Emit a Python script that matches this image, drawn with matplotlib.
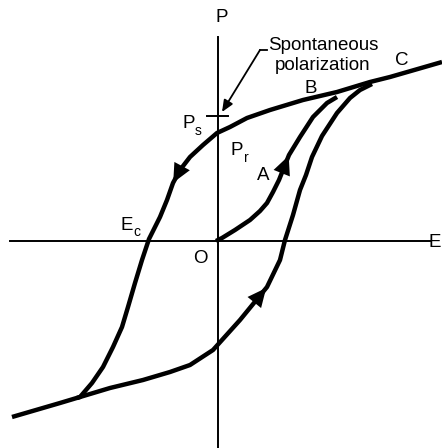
import matplotlib.pyplot as plt

plt.rcParams['font.family'] = ['Liberation Sans', 'DejaVu Sans']

# Curves (E across, P up, origin at O)
upper_E = [226, 174, 154, 121, 87, 54, 31, 14, 1, -13, -26, -36, -43, -49,
           -56, -67, -74, -81, -88, -94, -103, -113, -124, -136, -139]
upper_P = [179, 164, 159, 149, 141, 131, 123, 114, 108, 96, 84, 71, 58, 41,
           24, 2, -19, -42, -66, -86, -106, -126, -142, -156, -157]

lower_E = [-204, -156, -136, -106, -73, -46, -26, -3, 24, 51, 64, 69, 77, 84,
           90, 96, 106, 121, 134, 144, 156]
lower_P = [-176, -162, -156, -147, -139, -131, -124, -109, -79, -46, -19, 1,
           26, 51, 66, 84, 105, 128, 143, 151, 157]

virgin_E = [0, 6, 19, 34, 44, 51, 57, 63, 73, 84, 97, 111, 121]
virgin_P = [0, 3, 11, 21, 30, 38, 49, 61, 86, 104, 124, 138, 144]

Ps = 125

fig = plt.figure(figsize=(4.42, 4.48), dpi=100)
ax = fig.add_axes([0, 0, 1, 1])
ax.set_xlim(-216, 226)
ax.set_ylim(-207, 241)
ax.axis('off')

# axes
ax.plot([-206, 214], [0, 0], color='black', lw=1.4)
ax.plot([2, 2], [-210, 204], color='black', lw=1.4)

curve_kw = dict(color='black', lw=3.2, solid_joinstyle='round',
                solid_capstyle='butt')
ax.plot(upper_E, upper_P, **curve_kw)
ax.plot(lower_E, lower_P, **curve_kw)
ax.plot(virgin_E, virgin_P, **curve_kw)

# Ps tick
ax.plot([-9, 12], [Ps, Ps], color='black', lw=1.4)


def arrow_on(E, P, i, t):
    x0 = E[i] + (E[i + 1] - E[i]) * t
    y0 = P[i] + (P[i + 1] - P[i]) * t
    dx = (E[i + 1] - E[i]) * 0.02
    dy = (P[i + 1] - P[i]) * 0.02
    ax.annotate('', xy=(x0 + dx, y0 + dy), xytext=(x0, y0),
                arrowprops=dict(arrowstyle='-|>,head_length=0.9,head_width=0.42',
                                color='black', lw=0, shrinkA=0, shrinkB=0,
                                mutation_scale=15))


arrow_on(upper_E, upper_P, 11, 0.95)
arrow_on(virgin_E, virgin_P, 7, 0.95)
arrow_on(lower_E, lower_P, 8, 0.95)

# leader to Ps
ax.plot([51, 44], [191, 191], color='black', lw=1.3)
ax.annotate('', xy=(6, 129), xytext=(44, 191),
            arrowprops=dict(arrowstyle='-|>,head_length=0.7,head_width=0.3',
                            color='black', lw=1.3, shrinkA=0, shrinkB=0,
                            mutation_scale=10))

fs = 13.5
ax.text(6, 219, 'P', fontsize=fs, ha='center', va='baseline')
ax.text(107, 191, 'Spontaneous', fontsize=fs, ha='center', va='baseline')
ax.text(107, 171, 'polarization', fontsize=fs, ha='center', va='baseline')
ax.text(186, 176, 'C', fontsize=fs, ha='center', va='baseline')
ax.text(95, 148, 'B', fontsize=fs, ha='center', va='baseline')
ax.text(-27, 113, 'P', fontsize=fs, ha='center', va='baseline')
ax.text(-18, 106, 's', fontsize=10, ha='center', va='baseline')
ax.text(21, 86, 'P', fontsize=fs, ha='center', va='baseline')
ax.text(30, 79, 'r', fontsize=10, ha='center', va='baseline')
ax.text(47, 61, 'A', fontsize=fs, ha='center', va='baseline')
ax.text(-89, 11, 'E', fontsize=fs, ha='center', va='baseline')
ax.text(-79, 5, 'c', fontsize=10, ha='center', va='baseline')
ax.text(-16, -22, 'O', fontsize=fs, ha='center', va='baseline')
ax.text(225, -1, 'E', fontsize=fs, ha='right', va='center')

fig.savefig('out.png', dpi=100, facecolor='white')
